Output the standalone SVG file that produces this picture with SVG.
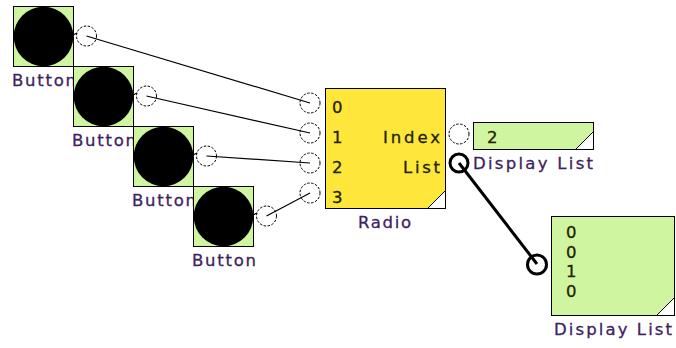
<svg xmlns="http://www.w3.org/2000/svg" width="676" height="348" viewBox="0 0 676 348">
<style>
.sq{fill:#d0f5a0;stroke:#000;stroke-width:1}
.blk{fill:#000}
.port{fill:none;stroke:#000;stroke-width:1;stroke-dasharray:2.5 1.5}
.portc{fill:none;stroke:#000;stroke-width:3}
.wire{fill:none;stroke:#000;stroke-width:1.2}
.wire3{fill:none;stroke:#000;stroke-width:3}
.lbl{font-family:"DejaVu Sans",Verdana,sans-serif;font-size:16.5px;fill:#3d2260;stroke:#3d2260;stroke-width:0.3}
.in{font-family:"DejaVu Sans",Verdana,sans-serif;font-size:16.5px;fill:#222200;stroke:#222200;stroke-width:0.3}
.tri{fill:#fff;stroke:#000;stroke-width:1}
</style>
<rect width="676" height="348" fill="#fff"/>
<g id="connectors">
<line class="wire" x1="86.5" y1="36" x2="310" y2="103"/>
<line class="wire" x1="146.5" y1="96" x2="310" y2="133"/>
<line class="wire" x1="206.5" y1="156" x2="310" y2="163"/>
<line class="wire" x1="266.5" y1="216" x2="310" y2="193"/>
<line class="wire3" x1="459" y1="163" x2="537" y2="264"/>
</g>
<g id="button1">
<rect class="sq" x="13.5" y="6.5" width="60" height="60"/>
<circle class="blk" cx="43.5" cy="36.5" r="29.8"/>
<line class="wire" x1="73" y1="35" x2="77" y2="33"/>
<circle class="port" cx="86.5" cy="36" r="10"/>
<text class="lbl" x="12" y="86" textLength="64" lengthAdjust="spacing">Button</text>
</g>
<g id="button2">
<rect class="sq" x="73.5" y="66.5" width="60" height="60"/>
<circle class="blk" cx="103.5" cy="96.5" r="29.8"/>
<line class="wire" x1="133" y1="95" x2="137" y2="93"/>
<circle class="port" cx="146.5" cy="96" r="10"/>
<text class="lbl" x="72" y="146" textLength="64" lengthAdjust="spacing">Button</text>
</g>
<g id="button3">
<rect class="sq" x="133.5" y="126.5" width="60" height="60"/>
<circle class="blk" cx="163.5" cy="156.5" r="29.8"/>
<line class="wire" x1="193" y1="155" x2="197" y2="153"/>
<circle class="port" cx="206.5" cy="156" r="10"/>
<text class="lbl" x="132" y="206" textLength="64" lengthAdjust="spacing">Button</text>
</g>
<g id="button4">
<rect class="sq" x="193.5" y="186.5" width="60" height="60"/>
<circle class="blk" cx="223.5" cy="216.5" r="29.8"/>
<line class="wire" x1="253" y1="215" x2="257" y2="213"/>
<circle class="port" cx="266.5" cy="216" r="10"/>
<text class="lbl" x="192" y="266" textLength="64" lengthAdjust="spacing">Button</text>
</g>
<g id="radio">
<rect x="325.5" y="88.5" width="120" height="120" fill="#ffe63a" stroke="#000" stroke-width="1"/>
<polygon class="tri" points="445.5,190.5 445.5,208.5 427.5,208.5"/>
<circle class="port" cx="310" cy="103" r="10"/>
<circle class="port" cx="310" cy="133" r="10"/>
<circle class="port" cx="310" cy="163" r="10"/>
<circle class="port" cx="310" cy="193" r="10"/>
<text class="in" x="332" y="113">0</text>
<text class="in" x="332" y="143">1</text>
<text class="in" x="332" y="173">2</text>
<text class="in" x="332" y="203">3</text>
<text class="in" x="440" y="143" text-anchor="end" textLength="57" lengthAdjust="spacing">Index</text>
<text class="in" x="440" y="173" text-anchor="end" textLength="37" lengthAdjust="spacing">List</text>
<circle class="port" cx="459" cy="134" r="10"/>
<circle class="portc" cx="459" cy="163" r="9"/>
<text class="lbl" x="358" y="228" textLength="53" lengthAdjust="spacing">Radio</text>
</g>
<g id="displaylist1">
<rect class="sq" x="473.5" y="122.5" width="120" height="27"/>
<polygon class="tri" points="593.5,131.5 593.5,149.5 575.5,149.5"/>
<text class="in" x="487" y="143">2</text>
<text class="lbl" x="473" y="169" textLength="120" lengthAdjust="spacing">Display List</text>
</g>
<g id="displaylist2">
<rect class="sq" x="551.5" y="216.5" width="123" height="99"/>
<polygon class="tri" points="674.5,297.5 674.5,315.5 656.5,315.5"/>
<circle class="portc" cx="537" cy="264.5" r="9.5"/>
<text class="in" x="566" y="238">0</text>
<text class="in" x="566" y="258">0</text>
<text class="in" x="566" y="277">1</text>
<text class="in" x="566" y="297">0</text>
<text class="lbl" x="554" y="335" textLength="118" lengthAdjust="spacing">Display List</text>
</g>
</svg>
